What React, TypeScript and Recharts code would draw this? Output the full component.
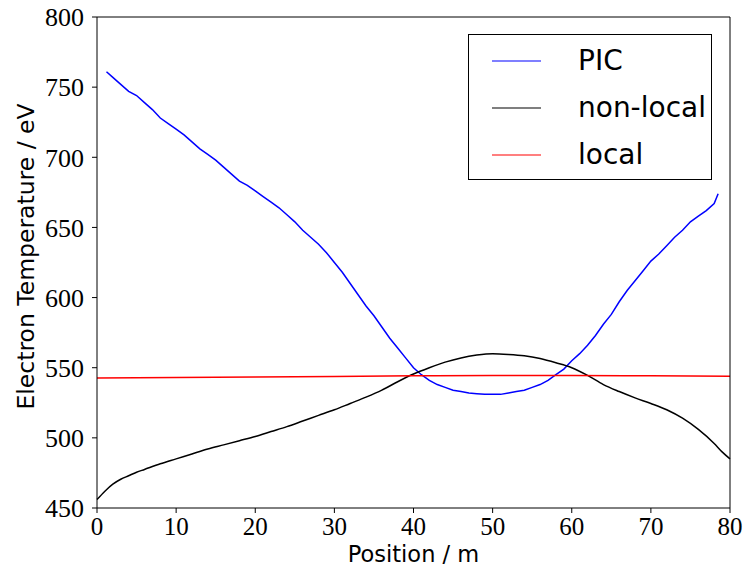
import { LineChart, Line, XAxis, YAxis, Legend } from 'recharts'

const SERIES_NAMES = ['PIC', 'non-local', 'local']
const SERIES_COLORS = ['#0000ff', '#000000', '#ff0000']

const X_TICKS = [0, 10, 20, 30, 40, 50, 60, 70, 80]
const Y_TICKS = [450, 500, 550, 600, 650, 700, 750, 800]

// PIC electron temperature (noisy)
const PIC_X = [
  1.2, 2, 3, 4, 5, 6, 7, 8, 9, 10, 11, 12, 13, 14, 15, 16, 17, 18, 19, 20,
  21, 22, 23, 24, 25, 26, 27, 28, 29, 30, 31, 32, 33, 34, 35, 36, 37, 38, 39, 40,
  41, 42, 43, 44, 45, 46, 47, 48, 49, 50, 51, 52, 53, 54, 55, 56, 57, 58, 59, 60,
  61, 62, 63, 64, 65, 66, 67, 68, 69, 70, 71, 72, 73, 74, 75, 76, 77, 78, 78.5,
]
const PIC_T = [
  761, 757, 752, 747, 744, 739, 734, 728, 724, 720, 716, 711, 706, 702, 698, 693, 688, 683, 680, 676,
  672, 668, 664, 659, 654, 648, 643, 638, 632, 625, 618, 610, 602, 594, 587, 579, 571, 564, 557, 550,
  545, 541, 538, 536, 534, 533, 532, 531.5, 531, 531, 531, 532, 533, 534, 536, 538, 541, 545, 549, 555,
  560, 566, 573, 581, 588, 597, 605, 612, 619, 626, 631, 637, 643, 648, 654, 658, 662, 667, 674,
]

// non-local model
const NONLOCAL_X = [
  0, 1, 2, 3, 4, 5, 6, 8, 10, 12, 14, 16, 18, 20, 22, 24, 26, 28, 30, 32, 34, 36, 38, 40,
  42, 44, 46, 48, 50, 52, 54, 56, 58, 60, 62, 64, 66, 68, 70, 72, 74, 76, 78, 79, 80,
]
const NONLOCAL_T = [
  456, 462, 467, 470.5, 473, 475.5, 477.5, 481.5, 485, 488.5, 492, 495, 498, 501, 504.5, 508, 512, 516, 520, 524.5, 529, 534, 540, 545.5,
  550, 554, 557, 559, 560, 559.5, 558.5, 556.5, 553.5, 550, 544.5, 538, 533, 528.5, 524.5, 520, 514, 506, 496, 490, 485,
]

// local model
const LOCAL_X = [0, 10, 20, 30, 40, 50, 60, 70, 80]
const LOCAL_T = [542.6, 543, 543.4, 543.8, 544.2, 544.5, 544.4, 544.2, 544]

const toRows = (xs: number[], ys: number[]) => xs.map((x, i) => ({ x, t: ys[i] }))

const SERIES = [
  { name: SERIES_NAMES[0], color: SERIES_COLORS[0], data: toRows(PIC_X, PIC_T), type: 'linear' as const },
  { name: SERIES_NAMES[1], color: SERIES_COLORS[1], data: toRows(NONLOCAL_X, NONLOCAL_T), type: 'monotone' as const },
  { name: SERIES_NAMES[2], color: SERIES_COLORS[2], data: toRows(LOCAL_X, LOCAL_T), type: 'monotone' as const },
]

const xTickFont = { fontFamily: 'Liberation Serif', fontSize: 25, fill: '#000' }
const yTickFont = { fontFamily: 'Liberation Serif', fontSize: 26, fill: '#000' }
const labelFont = 'DejaVu Sans'

function LegendBox({ payload }: any) {
  const items = [...(payload || [])].sort(
    (a: any, b: any) => SERIES_NAMES.indexOf(a.value) - SERIES_NAMES.indexOf(b.value)
  )
  return (
    <div
      style={{
        position: 'relative',
        width: 244,
        height: 146,
        boxSizing: 'border-box',
        border: '1.5px solid #000',
        background: '#fff',
      }}
    >
      {items.map((item: any, i: number) => (
        <div key={item.value} style={{ position: 'absolute', left: 0, top: 26 + i * 47 - 20, height: 40, width: 244 }}>
          <svg width={80} height={40} style={{ position: 'absolute', left: 0, top: 0 }}>
            <line x1={23} x2={72} y1={20} y2={20} stroke={item.color} strokeWidth={1.2} />
          </svg>
          <span
            style={{
              position: 'absolute',
              left: 109,
              top: 0,
              lineHeight: '40px',
              fontFamily: labelFont,
              fontSize: 28,
              color: '#000',
            }}
          >
            {item.value}
          </span>
        </div>
      ))}
    </div>
  )
}

function YLabel({ viewBox }: any) {
  const cx = viewBox.x + 26
  const cy = viewBox.y + viewBox.height / 2 - 6
  return (
    <text
      x={cx}
      y={cy}
      transform={`rotate(-90, ${cx}, ${cy})`}
      textAnchor="middle"
      dominantBaseline="central"
      fontFamily={labelFont}
      fontSize={23.5}
      fill="#000"
    >
      Electron Temperature / eV
    </text>
  )
}

function XLabel({ viewBox }: any) {
  return (
    <text
      x={viewBox.x + viewBox.width / 2}
      y={viewBox.y + viewBox.height - 6}
      textAnchor="middle"
      fontFamily={labelFont}
      fontSize={22.5}
      fill="#000"
    >
      Position / m
    </text>
  )
}

export default function App() {
  return (
    <div style={{ position: 'absolute', left: 0, top: 0, width: 744, height: 568, background: '#fff' }}>
      <LineChart width={744} height={568} margin={{ top: 16, right: 13, left: 0, bottom: 0 }}>
        <XAxis
          dataKey="x"
          type="number"
          domain={[0, 80]}
          ticks={X_TICKS}
          allowDuplicatedCategory={false}
          height={60}
          stroke="#000"
          tickSize={5}
          tickMargin={4}
          tick={xTickFont}
          interval={0}
          label={<XLabel />}
        />
        <XAxis
          xAxisId="top"
          orientation="top"
          type="number"
          domain={[0, 80]}
          ticks={X_TICKS}
          height={1}
          stroke="#000"
          tickSize={5}
          tick={false}
          interval={0}
        />
        <YAxis
          type="number"
          domain={[450, 800]}
          ticks={Y_TICKS}
          width={97}
          stroke="#000"
          tickSize={5}
          tickMargin={8}
          tick={yTickFont}
          interval={0}
          label={<YLabel />}
        />
        <YAxis
          yAxisId="right"
          orientation="right"
          type="number"
          domain={[450, 800]}
          ticks={Y_TICKS}
          width={1}
          stroke="#000"
          tickSize={5}
          tick={false}
          interval={0}
        />
        <Legend
          layout="horizontal"
          verticalAlign="middle"
          align="center"
          wrapperStyle={{ top: 34, left: 468, width: 244, height: 146 }}
          content={<LegendBox />}
        />
        {SERIES.map((s) => (
          <Line
            key={s.name}
            data={s.data}
            dataKey="t"
            name={s.name}
            type={s.type}
            stroke={s.color}
            strokeWidth={1.5}
            dot={false}
            activeDot={false}
            isAnimationActive={false}
          />
        ))}
      </LineChart>
    </div>
  )
}
